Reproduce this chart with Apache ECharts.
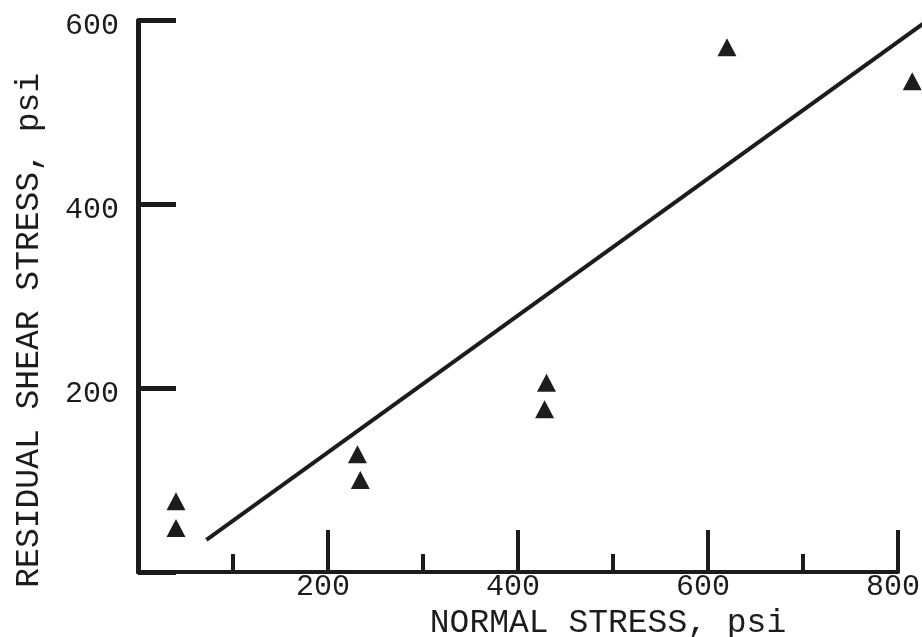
<!DOCTYPE html>
<html>
<head>
<meta charset="utf-8">
<script src="https://cdn.jsdelivr.net/npm/echarts@6/dist/echarts.min.js"></script>
<style>
html,body{margin:0;padding:0;background:#fff;}
#chart{width:922px;height:637px;}
</style>
</head>
<body>
<div id="chart"></div>
<script>
// Measured data (normal stress, residual shear stress), psi
var normalStress   = [40, 40, 231, 234, 430, 428, 620, 815];
var residualShear  = [77, 48, 128, 100, 206, 177, 571, 534];
// Fitted line end points
var fitX = [72, 850];
var fitY = [35, 614];
var xTicks = [200, 400, 600, 800];
var yTicks = [200, 400, 600];

var ink = '#1c1c1c';
var font = '"Liberation Mono", "DejaVu Sans Mono", monospace';

var points = normalStress.map(function (x, i) { return [x, residualShear[i]]; });
var fitLine = fitX.map(function (x, i) { return [x, fitY[i]]; });

var chart = echarts.init(document.getElementById('chart'), null, {renderer: 'canvas'});
chart.setOption({
  backgroundColor: '#ffffff',
  animation: false,
  grid: [
    {left: 138, right: 24, top: 20.5, bottom: 65, containLabel: false, outerBoundsMode: 'none'},
    // same scale, extended to the right so the fitted line runs off the page
    {left: 138, right: -71, top: 20.5, bottom: 65, containLabel: false, outerBoundsMode: 'none'}
  ],
  xAxis: [{
    type: 'value', min: 0, max: 800, interval: 200, gridIndex: 0,
    name: 'NORMAL STRESS, psi',
    nameLocation: 'middle', nameGap: 29,
    nameTextStyle: {fontFamily: font, fontSize: 33, color: ink, padding: [0, 0, 0, 180]},
    axisLine: {show: true, onZero: false, lineStyle: {color: ink, width: 4}},
    axisTick: {show: true, inside: true, length: 42, lineStyle: {color: ink, width: 4}},
    minorTick: {show: true, splitNumber: 2, length: 18, lineStyle: {color: ink, width: 4}},
    splitLine: {show: false},
    axisLabel: {
      fontFamily: font, fontSize: 30, color: ink, margin: 0, padding: [0, 10, 0, 0],
      formatter: function (v) { return xTicks.indexOf(v) >= 0 ? String(v) : ''; }
    }
  }, {
    type: 'value', min: 0, max: 900, gridIndex: 1, show: false
  }],
  yAxis: [{
    type: 'value', min: 0, max: 600, interval: 200, gridIndex: 0,
    name: 'RESIDUAL SHEAR STRESS, psi',
    nameLocation: 'middle', nameGap: 92,
    nameTextStyle: {fontFamily: font, fontSize: 33, color: ink, padding: [0, 68, 0, 0]},
    axisLine: {show: true, onZero: false, lineStyle: {color: ink, width: 5}},
    axisTick: {show: true, inside: true, length: 38, lineStyle: {color: ink, width: 5}},
    splitLine: {show: false},
    axisLabel: {
      fontFamily: font, fontSize: 30, color: ink, margin: 19,
      formatter: function (v) { return yTicks.indexOf(v) >= 0 ? '{a|' + v + '}' : ''; },
      rich: {a: {fontFamily: font, fontSize: 30, color: ink, padding: [12, 0, 0, 0]}}
    }
  }, {
    type: 'value', min: 0, max: 600, gridIndex: 1, show: false
  }],
  series: [
    {
      type: 'line', data: fitLine, showSymbol: false, clip: false,
      xAxisIndex: 1, yAxisIndex: 1,
      lineStyle: {color: ink, width: 4}
    },
    {
      type: 'scatter', data: points, clip: false,
      xAxisIndex: 0, yAxisIndex: 0,
      symbol: 'triangle', symbolSize: [19, 18],
      itemStyle: {color: ink, opacity: 1}
    }
  ]
});
</script>
</body>
</html>
